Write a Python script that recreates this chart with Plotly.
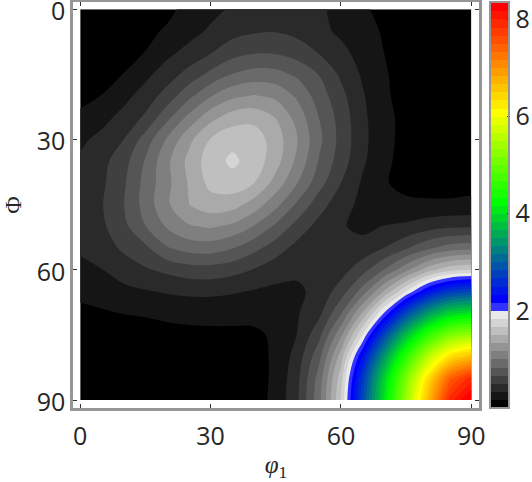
import plotly.graph_objects as go

phi1 = [0, 5, 10, 15, 20, 25, 30, 35, 40, 45, 50, 55, 60, 65, 70, 75, 80, 85, 90]
Phi = [0, 5, 10, 15, 20, 25, 30, 35, 40, 45, 50, 55, 60, 65, 70, 75, 80, 85, 90]

row_00 = [.04, .05, .07, .10, .14, .20, .28, .36, .41, .43, .41, .36, .28, .19, .12, .08, .06, .05, .05]
row_05 = [.05, .07, .10, .14, .18, .27, .36, .44, .48, .49, .45, .38, .30, .22, .15, .09, .06, .05, .05]
row_10 = [.05, .08, .11, .17, .29, .39, .49, .60, .655, .65, .59, .49, .38, .27, .165, .10, .07, .05, .05]
row_15 = [.08, .12, .17, .29, .42, .56, .71, .84, .90, .89, .80, .66, .47, .31, .18, .11, .07, .05, .05]
row_20 = [.135, .17, .28, .41, .57, .79, .99, 1.13, 1.18, 1.13, .97, .75, .55, .35, .19, .11, .07, .06, .06]
row_25 = [.19, .28, .39, .53, .79, 1.05, 1.28, 1.42, 1.45, 1.33, 1.10, .83, .60, .37, .21, .12, .07, .06, .06]
row_30 = [.30, .38, .50, .74, 1.02, 1.29, 1.51, 1.62, 1.59, 1.42, 1.167, .87, .61, .38, .21, .12, .07, .06, .06]
row_35 = [.36, .45, .60, .85, 1.13, 1.38, 1.59, 1.70, 1.60, 1.40, 1.12, .82, .58, .36, .20, .11, .07, .07, .08]
row_40 = [.39, .47, .64, .89, 1.12, 1.35, 1.55, 1.60, 1.50, 1.27, 1.0, .73, .50, .31, .18, .12, .11, .11, .12]
row_45 = [.42, .49, .66, .90, 1.14, 1.33, 1.425, 1.40, 1.26, 1.05, .80, .57, .40, .29, .22, .20, .19, .19, .20]
row_50 = [.38, .47, .62, .83, 1.02, 1.15, 1.19, 1.13, .99, .80, .60, .44, .35, .29, .34, .365, .43, .47, .48]
row_55 = [.36, .42, .53, .63, .82, .90, .91, .84, .715, .58, .44, .37, .34, .40, .505, .65, .80, .91, .95]
row_60 = [.285, .33, .41, .48, .54, .59, .60, .56, .49, .40, .37, .36, .43, .60, .84, 1.12, 1.42, 1.61, 1.67]
row_65 = [.205, .23, .29, .32, .35, .37, .37, .35, .32, .30, .30, .39, .58, .91, 1.36, 1.84, 2.35, 2.68, 2.8]
row_70 = [.13, .15, .17, .18, .20, .21, .22, .22, .21, .22, .32, .46, .82, 1.36, 2.02, 2.8, 3.45, 3.9, 4.05]
row_75 = [.08, .09, .10, .11, .12, .13, .13, .13, .14, .19, .34, .62, 1.13, 1.84, 2.8, 3.75, 4.57, 5.13, 5.35]
row_80 = [.05, .05, .06, .07, .07, .08, .08, .09, .12, .19, .41, .79, 1.42, 2.35, 3.46, 4.56, 5.56, 6.33, 6.65]
row_85 = [.03, .04, .04, .05, .05, .06, .06, .07, .10, .20, .46, .91, 1.6, 2.68, 3.9, 5.13, 6.33, 7.43, 7.92]
row_90 = [.03, .03, .04, .04, .05, .05, .05, .07, .10, .21, .48, .95, 1.67, 2.8, 4.05, 5.35, 6.65, 7.92, 8.4]

z = [row_00, row_05, row_10, row_15, row_20, row_25, row_30, row_35, row_40, row_45,
     row_50, row_55, row_60, row_65, row_70, row_75, row_80, row_85, row_90]

axis_ticks = [0, 30, 60, 90]
bar_ticks = [2, 4, 6, 8]

# band colours: 12 greys, one pale blue, then blue-green-yellow-red
bands = []
for k in range(12):
    g = round(k * 21.2)
    bands.append(f"rgb({g},{g},{g})")
bands.append("rgb(51,51,255)")
for i in range(13):
    t = i / 12
    bands.append(f"rgb(0,{round(255*t)},{round(255*(1-t))})")
for i in range(1, 12):
    bands.append(f"rgb({round(255*i/11)},255,0)")
for i in range(1, 14):
    bands.append(f"rgb(255,{round(255*(1-i/13))},0)")
scale = [[k / (len(bands) - 1), c] for k, c in enumerate(bands)]

FRAME = "#969696"
TEXT = "#262626"
FONT = "Open Sans"

fig = go.Figure(go.Contour(
    x=phi1, y=Phi, z=z,
    autocontour=False,
    contours=dict(start=1 / 6, end=8.17, size=1 / 6, coloring="fill"),
    line=dict(width=0, smoothing=1),
    colorscale=scale,
    zmin=0, zmax=8.36,
    colorbar=dict(
        x=(489.5 - 72.8) / (478.7 - 72.8), xanchor="left", xpad=0,
        y=0.5, yanchor="middle", ypad=0,
        thicknessmode="pixels", thickness=19,
        lenmode="fraction", len=1,
        outlinecolor=FRAME, outlinewidth=2,
        tickmode="array", tickvals=bar_ticks, ticktext=[str(v) for v in bar_ticks],
        ticks="inside", ticklen=3, tickcolor="#333333", tickwidth=1,
        tickfont=dict(family=FONT, size=25, color=TEXT),
    ),
))

common = dict(
    tickmode="array", tickvals=axis_ticks, ticktext=[str(v) for v in axis_ticks],
    ticks="inside", ticklen=4, tickwidth=1, tickcolor="#333333",
    showline=True, linecolor=FRAME, linewidth=2.5, mirror="ticks",
    showgrid=False, zeroline=False, ticklabeloverflow="allow",
    tickfont=dict(family=FONT, size=25, color=TEXT),
)

fig.update_layout(
    width=532, height=482,
    margin=dict(l=72.8, r=532 - 478.7, t=1.5, b=482 - 407.7, autoexpand=False),
    paper_bgcolor="white", plot_bgcolor="white",
    xaxis=dict(range=[-1.66, 91.76], ticklabelstandoff=4,
               title=dict(text="<i>φ</i><sub>1</sub>", standoff=11,
               font=dict(family="Liberation Serif", size=25, color=TEXT)), **common),
    yaxis=dict(range=[91.83, -1.66], ticklabelshift=-2,
               title=dict(text="Φ", standoff=13,
               font=dict(family="Liberation Serif", size=24, color=TEXT)), **common),
)

fig.write_html("out.html", config={"displayModeBar": False},
               post_script="document.body.style.margin='0';document.body.style.overflow='hidden';")
